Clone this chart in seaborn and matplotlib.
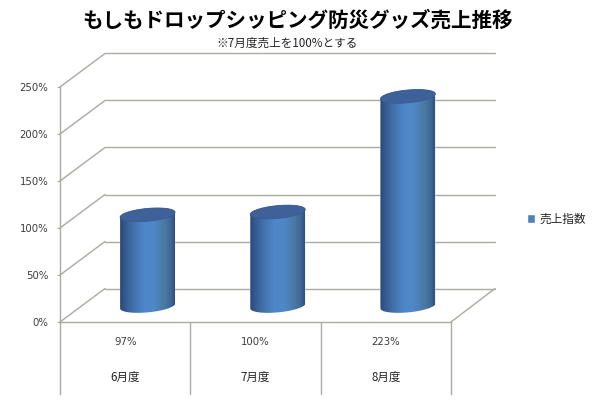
import numpy as np
import pandas as pd
import matplotlib
matplotlib.use("Agg")
import matplotlib.pyplot as plt
from matplotlib.colors import LinearSegmentedColormap
from matplotlib.patches import ConnectionPatch, Polygon
import seaborn as sns

months = ["6月度", "7月度", "8月度"]
index_values = [97, 100, 223]
value_labels = ["97%", "100%", "223%"]
y_ticks = [0, 50, 100, 150, 200, 250]
y_tick_labels = ["0%", "50%", "100%", "150%", "200%", "250%"]
series_name = "売上指数"
title_text = "もしもドロップシッピング防災グッズ売上推移"
subtitle_text = "※7月度売上を100%とする"

sns.set_theme(style="white")
plt.rcParams["font.family"] = ["Noto Sans CJK JP", "DejaVu Sans"]

W, H = 598, 400
GRID = "#ABA9A2"
TXT = "#3C3C3C"
fig = plt.figure(figsize=(W / 100, H / 100), dpi=100, facecolor="white")


def plane(left, right, bottom, top, z):
    a = fig.add_axes([left / W, 1 - bottom / H, (right - left) / W, (bottom - top) / H], zorder=z)
    a.patch.set_visible(False)
    return a


ax_back = plane(105, 495, 288.5, 53.5, 1)
ax_front = plane(60, 451, 322, 87, 2)
ax_mid = plane(82.5, 473, 306, 71, 3)

df = pd.DataFrame({"month": months, "value": index_values})

# Back wall with gridlines
ax_back.set_xlim(-0.5, 2.5)
ax_back.set_ylim(0, 250)
ax_back.set_yticks(y_ticks)
ax_back.set_xticks([])
ax_back.tick_params(left=False, labelleft=False)
ax_back.grid(axis="y", color=GRID, lw=1.0, clip_on=False)
ax_back.grid(axis="x", visible=False)
sns.despine(ax=ax_back, left=True, bottom=True)

# Front plane: axis, ticks, data table
ax_front.set_xlim(-0.5, 2.5)
ax_front.set_ylim(0, 250)
ax_front.set_yticks(y_ticks)
ax_front.set_yticklabels(y_tick_labels, fontsize=7.3, color=TXT, family="DejaVu Sans")
ax_front.set_xticks(range(len(months)))
ax_front.set_xticklabels(months, fontsize=8.3, color="#222222")
ax_front.tick_params(axis="y", left=True, length=2.5, width=0.8, color=GRID, pad=6)
ax_front.tick_params(axis="x", bottom=False, pad=29)
sns.despine(ax=ax_front, right=True, top=True)
for side in ("left", "bottom"):
    ax_front.spines[side].set_color(GRID)
    ax_front.spines[side].set_linewidth(1.0)
trans = ax_front.get_xaxis_transform()
for edge in np.arange(len(months) + 1) - 0.5:
    ax_front.plot([edge, edge], [0, -0.306], transform=trans, color=GRID, lw=1.0, clip_on=False)
for i, lab in enumerate(value_labels):
    ax_front.annotate(lab, (i, 0), xytext=(0, -20), textcoords="offset pixels", ha="center",
                      va="center", fontsize=7.3, color=TXT, family="DejaVu Sans")

# Side edges connecting the front and back planes
for v in y_ticks:
    fig.add_artist(ConnectionPatch((-0.5, v), (-0.5, v), "data", "data", axesA=ax_front, axesB=ax_back,
                                   color=GRID, lw=1.0, zorder=1.5))
fig.add_artist(ConnectionPatch((2.5, 0), (2.5, 0), "data", "data", axesA=ax_front, axesB=ax_back,
                               color=GRID, lw=1.0, zorder=1.5))

# Cylinders: bars from seaborn, shaded and capped
sns.barplot(data=df, x="month", y="value", ax=ax_mid, color="#4F81BD", width=0.422,
            saturation=1, label=series_name, legend=False)
handles, labels = ax_mid.get_legend_handles_labels()
if ax_mid.get_legend() is not None:
    ax_mid.get_legend().remove()
ax_mid.set_xlim(-0.5, 2.5)
ax_mid.set_ylim(0, 250)
ax_mid.axis("off")

cmap = LinearSegmentedColormap.from_list("cyl", [
    (0.00, "#2C4678"), (0.08, "#35578C"), (0.25, "#4372AB"), (0.45, "#4F87CB"),
    (0.62, "#4F86C6"), (0.80, "#4A7AA3"), (0.93, "#3E6896"), (1.00, "#2D4C86")])
grad = np.linspace(0, 1, 256).reshape(1, -1)
cap_b, cap_tilt = 6.8, 2.6
t = np.linspace(0, 2 * np.pi, 121)
lower = np.linspace(np.pi, 2 * np.pi, 61)
upper = np.linspace(0, np.pi, 61)
for bar in list(ax_mid.patches):
    x0, w, v = bar.get_x(), bar.get_width(), bar.get_height()
    cx, a = x0 + w / 2, w / 2

    def pts(th, base):
        return np.column_stack([cx + a * np.cos(th), base + cap_b * np.sin(th) + cap_tilt * np.cos(th)])

    outline = np.vstack([pts(lower, 0), pts(upper, v)])
    clip = Polygon(outline, closed=True, transform=ax_mid.transData, facecolor="none", edgecolor="none")
    ax_mid.add_patch(clip)
    clip.set_clip_on(False)
    bar.set_clip_box(fig.bbox)
    bar.set_clip_path(clip)
    im = ax_mid.imshow(grad, extent=[x0, x0 + w, -15, v + 15], aspect="auto", cmap=cmap, zorder=3)
    im.set_clip_box(fig.bbox)
    im.set_clip_path(clip)
    ax_mid.add_patch(Polygon(pts(t, v), closed=True, facecolor="#3D6198", edgecolor="#3A5C92",
                             lw=0.6, zorder=4))
ax_mid.set_xlim(-0.5, 2.5)
ax_mid.set_ylim(0, 250)

fig.legend(handles, labels, loc="center left", bbox_to_anchor=(526.5 / W, 1 - 219 / H), frameon=False,
           handlelength=0.75, handleheight=0.75, handletextpad=0.4, borderpad=0, borderaxespad=0,
           prop={"size": 8.4}, labelcolor="#222222")

fig.text(298 / W, 1 - 20 / H, title_text, ha="center", va="center", fontsize=14.8, fontweight="bold",
         color="black")
fig.text(287 / W, 1 - 43 / H, subtitle_text, ha="center", va="center", fontsize=8.4, color="#222222")

fig.savefig("out.png", dpi=100, facecolor="white")
